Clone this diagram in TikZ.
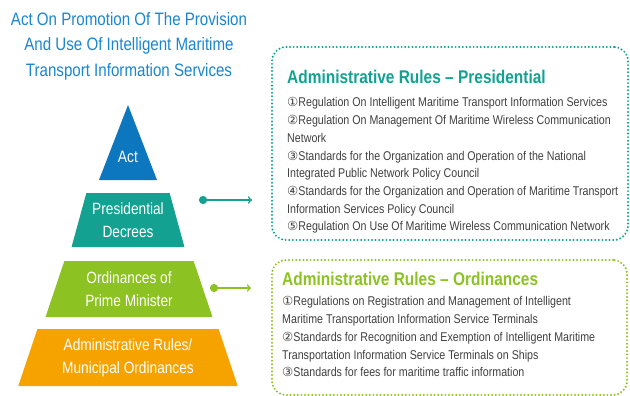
\documentclass[tikz,border=0pt]{standalone}
\usepackage{fontspec}
\setmainfont{Liberation Sans}[FakeStretch=0.84]
\newfontfamily\circfont{DejaVu Sans}
\usetikzlibrary{shapes.geometric,arrows}

\definecolor{titleblue}{HTML}{1A86CF}
\definecolor{actblue}{HTML}{0C76BE}
\definecolor{rulteal}{HTML}{13A292}
\definecolor{rulgreen}{HTML}{8CC221}
\definecolor{rulorange}{HTML}{F6A300}
\definecolor{bodygray}{HTML}{404040}

% circled list numbers come from DejaVu
\newcommand{\cnum}[1]{{\circfont\fontsize{12.5}{12.5}\selectfont #1}}

\tikzset{
  level/.style={ % one step of the pyramid
    trapezium, trapezium angle=70, trapezium stretches=true,
    inner sep=0pt, text=white, align=center,
    font=\fontsize{16.3}{23}\selectfont
  },
  rulebox/.style={ % dotted frame round a list of rules
    rectangle, rounded corners=14pt, line width=2.2pt,
    dash pattern=on 0pt off 3.6pt, line cap=round, inner sep=0pt
  },
  ruletitle/.style={
    anchor=base west, inner sep=0pt,
    font=\bfseries\fontsize{18.4}{22}\selectfont
  },
  rulelist/.style={
    anchor=north west, inner sep=0pt, align=left, text=bodygray,
    font=\fontsize{12.7}{17.7}\selectfont
  },
  link/.style={*->, line width=1.6pt}
}

\begin{document}
\begin{tikzpicture}[x=1pt, y=-1pt]
  \useasboundingbox (0,0) rectangle (630,396);

  \node[text=titleblue, align=center, font=\fontsize{18}{25.5}\selectfont] (title)
    at (129,46) {Act On Promotion Of The Provision\\And Use Of Intelligent Maritime\\Transport Information Services};

  % the pyramid
  \fill[actblue] (128,105) -- (157,180) -- (99,180) -- cycle;
  \node[text=white, font=\fontsize{16.5}{23}\selectfont] (act) at (128,157) {Act};
  \node[level, fill=rulteal, minimum width=113pt, minimum height=54pt] (pres)
    at (128,220) {Presidential\\Decrees};
  \node[level, fill=rulgreen, minimum width=167pt, minimum height=56pt] (ordi)
    at (129,289) {Ordinances of\\Prime Minister};
  \node[level, fill=rulorange, minimum width=220pt, minimum height=57pt] (admin)
    at (128,357.5) {Administrative Rules/\\Municipal Ordinances};

  % the two rule lists
  \node[rulebox, draw=rulteal, minimum width=356pt, minimum height=193pt] (presbox) at (450,143.5) {};
  \node[rulebox, draw=rulgreen, minimum width=355pt, minimum height=135pt] (ordbox) at (449.5,327.5) {};

  \node[ruletitle, text=rulteal] (prestitle) at (287,84) {Administrative Rules – Presidential};
  \node[rulelist] (preslist) at (287,97.5) {%
    \cnum{①}Regulation On Intelligent Maritime Transport Information Services\\
    \cnum{②}Regulation On Management Of Maritime Wireless Communication\\
    Network\\
    \cnum{③}Standards for the Organization and Operation of the National\\
    Integrated Public Network Policy Council\\
    \cnum{④}Standards for the Organization and Operation of Maritime Transport\\
    Information Services Policy Council\\
    \cnum{⑤}Regulation On Use Of Maritime Wireless Communication Network};

  \node[ruletitle, text=rulgreen] (ordtitle) at (282,285) {Administrative Rules – Ordinances};
  \node[rulelist] (ordlist) at (282,296.5) {%
    \cnum{①}Regulations on Registration and Management of Intelligent\\
    Maritime Transportation Information Service Terminals\\
    \cnum{②}Standards for Recognition and Exemption of Intelligent Maritime\\
    Transportation Information Service Terminals on Ships\\
    \cnum{③}Standards for fees for maritime traffic information};

  % links from the pyramid to the lists
  \coordinate (ps) at (199,200);
  \coordinate (pe) at (252,200);
  \coordinate (os) at (210,288);
  \coordinate (oe) at (251,288);
  \draw[link, rulteal] (ps) -- (pe);
  \draw[link, rulgreen] (os) -- (oe);
\end{tikzpicture}
\end{document}
